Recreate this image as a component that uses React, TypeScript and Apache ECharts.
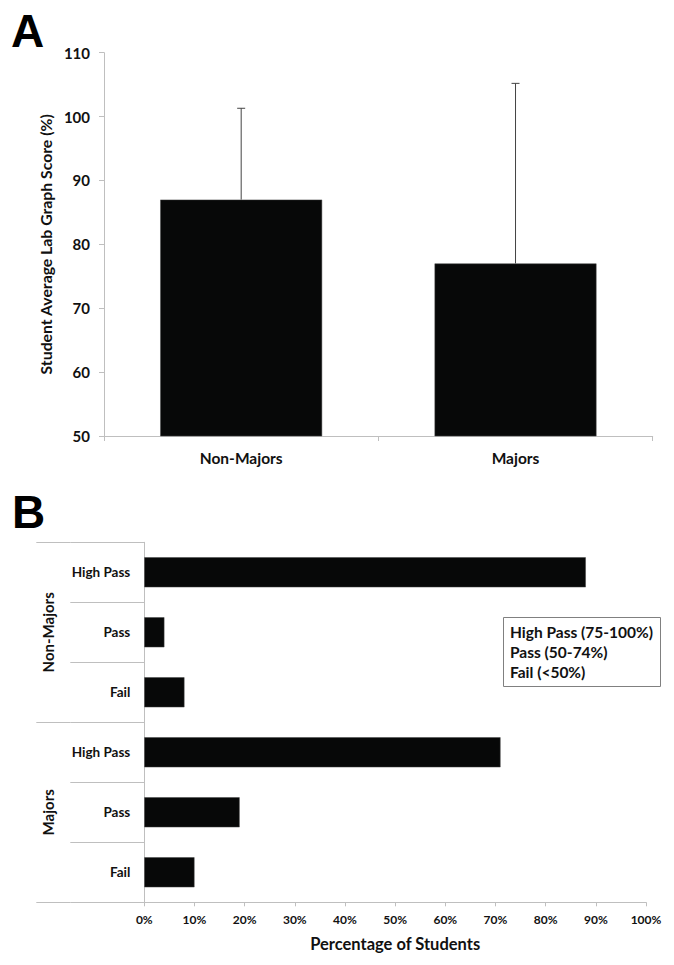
import React, { useEffect, useRef } from "react";
import * as echarts from "echarts";

// Panel A data
const studentGroups = ["Non-Majors", "Majors"];
const meanScores = [87, 77];
const sdScores = [14.3, 28.2];

// Panel B data
const gradeLabels = ["High Pass", "Pass", "Fail"];
const nonMajorsPct = [88, 4, 8];
const majorsPct = [71, 19, 10];
const legendLines = ["High Pass (75-100%)", "Pass (50-74%)", "Fail (<50%)"];

const FONT = "Lato";
const AXIS_GRAY = "#bfbfbf";

export default function App() {
  const ref = useRef<HTMLDivElement>(null);
  useEffect(() => {
    if (!ref.current) return;
    const chart = echarts.init(ref.current, undefined, { renderer: "svg" });

    const bCategories: string[] = [];
    studentGroups.forEach((g) => gradeLabels.forEach((l) => bCategories.push(g + "|" + l)));
    const bValues = [...nonMajorsPct, ...majorsPct];

    const errData = studentGroups.map((g, i) => [i, meanScores[i], meanScores[i] + sdScores[i]]);

    const option: any = {
      animation: false,
      backgroundColor: "#ffffff",
      textStyle: { fontFamily: FONT },
      graphic: [
        {
          type: "text",
          left: 11,
          top: 8,
          style: { text: "A", font: "900 46px 'Liberation Sans', Arial", fill: "#000" },
        },
        {
          type: "text",
          left: 12,
          top: 489,
          style: { text: "B", font: "900 46px 'Liberation Sans', Arial", fill: "#000" },
        },
      ],
      title: [
        {
          text: legendLines.join("\n"),
          left: 503,
          top: 617,
          borderColor: "#808080",
          borderWidth: 1,
          padding: [5, 8, 5, 7],
          textStyle: {
            fontFamily: FONT,
            fontWeight: "bold",
            fontSize: 15.5,
            lineHeight: 20,
            color: "#111",
          },
        },
      ],
      grid: [
        { left: 104, top: 52.7, width: 548.7, height: 383.3 },
        { left: 144.3, top: 542.3, width: 501.7, height: 360 },
      ],
      xAxis: [
        {
          type: "category",
          gridIndex: 0,
          data: studentGroups,
          axisLine: { show: true, lineStyle: { color: AXIS_GRAY } },
          axisTick: { show: true, alignWithLabel: false, length: 5, lineStyle: { color: AXIS_GRAY } },
          axisLabel: { color: "#111", fontWeight: "bold", fontSize: 15.5, margin: 14, fontFamily: FONT },
          splitLine: { show: false },
        },
        {
          type: "value",
          gridIndex: 1,
          min: 0,
          max: 100,
          interval: 10,
          axisLine: { show: true, lineStyle: { color: AXIS_GRAY } },
          axisTick: { show: true, length: 4, lineStyle: { color: AXIS_GRAY } },
          axisLabel: {
            formatter: "{value}%",
            color: "#111",
            fontWeight: "bold",
            fontSize: 12,
            margin: 11,
            fontFamily: FONT,
          },
          splitLine: { show: false },
          name: "Percentage of Students",
          nameLocation: "middle",
          nameGap: 33,
          nameTextStyle: { color: "#111", fontWeight: "bold", fontSize: 16.5, fontFamily: FONT },
        },
      ],
      yAxis: [
        {
          type: "value",
          gridIndex: 0,
          min: 50,
          max: 110,
          interval: 10,
          axisLine: { show: true, lineStyle: { color: AXIS_GRAY } },
          axisTick: { show: true, length: 5, lineStyle: { color: AXIS_GRAY } },
          axisLabel: { color: "#111", fontWeight: "bold", fontSize: 15, margin: 14, fontFamily: FONT },
          splitLine: { show: false },
          name: "Student Average Lab Graph Score (%)",
          nameLocation: "middle",
          nameRotate: 90,
          nameGap: 44,
          nameTextStyle: { color: "#111", fontWeight: "bold", fontSize: 15.8, fontFamily: FONT },
        },
        {
          type: "category",
          gridIndex: 1,
          inverse: true,
          data: bCategories,
          axisLine: { show: true, lineStyle: { color: AXIS_GRAY } },
          axisTick: { show: true, alignWithLabel: false, length: 74, lineStyle: { color: AXIS_GRAY } },
          axisLabel: {
            color: "#111",
            fontWeight: "bold",
            fontSize: 13.5,
            margin: 14,
            fontFamily: FONT,
            formatter: (v: string) => v.split("|")[1],
          },
          splitLine: { show: false },
        },
        {
          type: "category",
          gridIndex: 1,
          inverse: true,
          position: "left",
          offset: 74,
          data: studentGroups,
          axisLine: { show: false },
          axisTick: { show: true, alignWithLabel: false, length: 34, lineStyle: { color: AXIS_GRAY } },
          axisLabel: {
            rotate: 90,
            color: "#111",
            fontWeight: "bold",
            fontSize: 15,
            margin: 15,
            fontFamily: FONT,
          },
          splitLine: { show: false },
        },
      ],
      series: [
        {
          type: "bar",
          xAxisIndex: 0,
          yAxisIndex: 0,
          data: meanScores,
          barWidth: "59%",
          itemStyle: { color: "#070808", borderColor: "#444", borderWidth: 0.5 },
        },
        {
          type: "custom",
          xAxisIndex: 0,
          yAxisIndex: 0,
          data: errData,
          encode: { x: 0, y: [1, 2] },
          z: 5,
          renderItem: (params: any, api: any) => {
            const base = api.coord([api.value(0), api.value(1)]);
            const top = api.coord([api.value(0), api.value(2)]);
            const st = { stroke: "#444", lineWidth: 1 };
            return {
              type: "group",
              children: [
                { type: "line", shape: { x1: base[0], y1: base[1], x2: top[0], y2: top[1] }, style: st },
                { type: "line", shape: { x1: top[0] - 4, y1: top[1], x2: top[0] + 4, y2: top[1] }, style: st },
              ],
            };
          },
        },
        {
          type: "bar",
          xAxisIndex: 1,
          yAxisIndex: 1,
          data: bValues,
          barWidth: "50%",
          itemStyle: { color: "#070808", borderColor: "#444", borderWidth: 0.5 },
        },
      ],
    };
    chart.setOption(option);
    return () => chart.dispose();
  }, []);
  return (
    <div
      ref={ref}
      style={{ position: "fixed", left: 0, top: 0, width: 674, height: 965, background: "#fff" }}
    />
  );
}
